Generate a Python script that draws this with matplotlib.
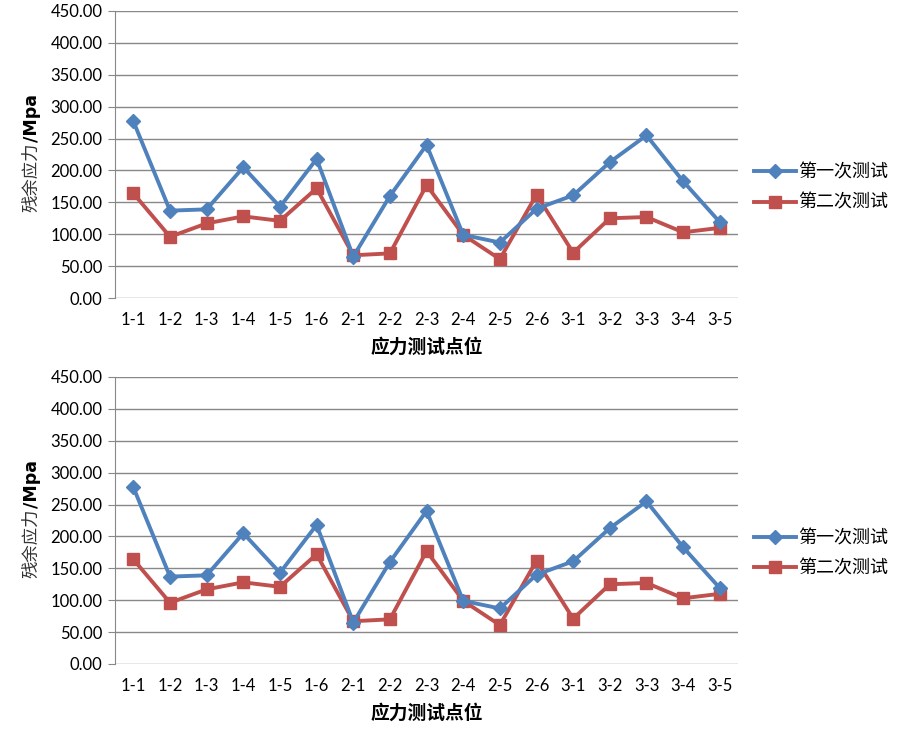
import numpy as np
import matplotlib.pyplot as plt

plt.rcParams['font.family'] = ['Lato', 'Noto Sans CJK SC', 'DejaVu Sans']

points = ['1-1', '1-2', '1-3', '1-4', '1-5', '1-6', '2-1', '2-2', '2-3',
          '2-4', '2-5', '2-6', '3-1', '3-2', '3-3', '3-4', '3-5']
test1 = [277, 137, 139, 205, 143, 218, 65, 160, 240,
         99, 87, 140, 161, 213, 255, 183, 119]
test2 = [164, 96, 117, 128, 121, 172, 67, 70, 177,
         99, 61, 162, 71, 125, 127, 103, 110]
yticks = np.arange(0, 451, 50)

blue = '#4F81BD'
red = '#C0504D'
grid = '#888888'
cjk = ['Noto Sans CJK SC', 'DejaVu Sans']

fig = plt.figure(figsize=(9.03, 7.31), dpi=100)
boxes = [[0.1274, 0.5923, 0.69, 0.3927], [0.1274, 0.0917, 0.69, 0.3926]]

for box in boxes:
    ax = fig.add_axes(box)
    x = np.arange(len(points))
    ax.plot(x, test1, color=blue, lw=2.8, marker='D', ms=7.5, label='第一次测试', zorder=3)
    ax.plot(x, test2, color=red, lw=2.8, marker='s', ms=8.5, label='第二次测试', zorder=2)
    ax.set_xlim(-0.5, len(points) - 0.5)
    ax.set_ylim(0, 450)
    ax.set_yticks(yticks)
    ax.set_yticklabels(['%.2f' % v for v in yticks], fontsize=12)
    ax.set_xticks(x)
    ax.set_xticklabels(points, fontsize=12)
    ax.yaxis.grid(True, color=grid, lw=1)
    ax.set_axisbelow(True)
    for s in ['top', 'right', 'bottom']:
        ax.spines[s].set_visible(False)
    ax.spines['left'].set_color(grid)
    ax.tick_params(axis='y', length=5, color=grid, pad=4)
    ax.tick_params(axis='x', length=0, pad=10)

    # y label: Chinese part regular, unit part bold
    t1 = ax.text(-0.135, 0.30, '残余应力', transform=ax.transAxes, rotation=90,
                 ha='center', va='bottom', fontsize=12.5, family=cjk, color='#333333')
    ax.annotate('/Mpa', xy=(0.55, 1.0), xycoords=t1, rotation=90, ha='center',
                va='bottom', fontsize=12.5, fontweight='bold', family=['DejaVu Sans'])

    ax.set_xlabel('应力测试点位', fontsize=13.5, fontweight='bold',
                  family=cjk, labelpad=7)
    ax.legend(loc='center left', bbox_to_anchor=(1.0, 0.385), frameon=False,
              handlelength=2.3, handletextpad=0.1, labelspacing=0.7,
              prop={'family': cjk, 'size': 13})

fig.savefig('out.png', dpi=100)
